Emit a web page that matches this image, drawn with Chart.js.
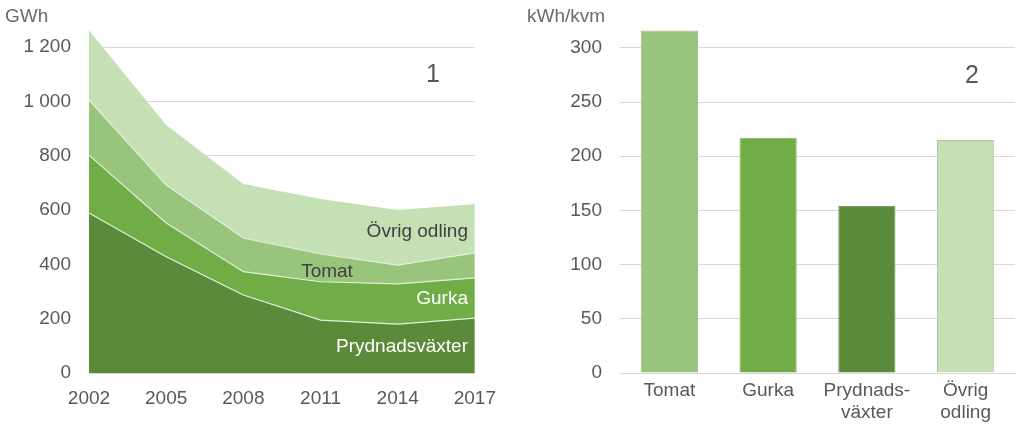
<!DOCTYPE html>
<html>
<head>
<meta charset="utf-8">
<script src="https://cdn.jsdelivr.net/npm/chart.js@4/dist/chart.umd.min.js"></script>
<style>
  html, body { margin: 0; padding: 0; background: #fff; }
  #wrap { position: relative; width: 1023px; height: 430px; overflow: hidden; }
  .box { position: absolute; top: 0; height: 430px; }
</style>
</head>
<body>
<div id="wrap">
  <div class="box" style="left:0;width:510px"><canvas id="c1" width="510" height="430"></canvas></div>
  <div class="box" style="left:505px;width:518px"><canvas id="c2" width="518" height="430"></canvas></div>
</div>
<script>
// ---- data (left chart: GWh per year, stacked) ----
const years = ['2002', '2005', '2008', '2011', '2014', '2017'];
const prydnadsvaxter = [589, 428, 287, 195, 180, 202];
const gurka = [213, 124, 86, 141, 148, 148];
const tomat = [203, 140, 124, 102, 69, 92];
const ovrigOdling = [257, 221, 199, 203, 203, 180];

// ---- data (right chart: kWh/kvm per crop) ----
const barCategories = [['Tomat'], ['Gurka'], ['Prydnads-', 'växter'], ['Övrig', 'odling']];
const barValues = [316, 217, 154, 215];

const FONT = '"Liberation Sans", Arial, sans-serif';
const TXT = '#595959';
const GRID = '#d9d9d9';
const C_PRYD = '#5b8a3a';
const C_GURKA = '#70ad47';
const C_TOMAT = '#99c47c';
const C_OVRIG = '#c5e0b4';
const SEP = '#e3efd9';

function fmt(v) { return String(v).replace(/\B(?=(\d{3})+(?!\d))/g, ' '); }

function textPlugin(items) {
  return {
    id: 'texts',
    afterDraw(chart) {
      const ctx = chart.ctx;
      ctx.save();
      items.forEach(t => {
        ctx.font = (t.size || 19) + 'px ' + FONT;
        ctx.fillStyle = t.color || TXT;
        ctx.textAlign = t.align || 'left';
        ctx.textBaseline = 'middle';
        ctx.fillText(t.text, t.x, t.y);
      });
      ctx.restore();
    }
  };
}

const mk = (label, data, color, fill, border) => ({
  label, data, backgroundColor: color, fill,
  borderColor: border ? SEP : 'rgba(0,0,0,0)', borderWidth: border ? 1.2 : 0,
  pointRadius: 0, tension: 0
});

new Chart(document.getElementById('c1'), {
  type: 'line',
  data: {
    labels: years,
    datasets: [
      mk('Prydnadsväxter', prydnadsvaxter, C_PRYD, 'origin', true),
      mk('Gurka', gurka, C_GURKA, '-1', true),
      mk('Tomat', tomat, C_TOMAT, '-1', true),
      mk('Övrig odling', ovrigOdling, C_OVRIG, '-1', false)
    ]
  },
  options: {
    responsive: false, animation: false,
    layout: { padding: { top: 0, right: 25, left: 0, bottom: 0 } },
    plugins: { legend: { display: false }, tooltip: { enabled: false } },
    scales: {
      x: {
        offset: false,
        grid: { display: false, drawTicks: false },
        border: { display: true, color: GRID },
        ticks: { color: TXT, font: { family: FONT, size: 19 }, padding: 14, maxRotation: 0, autoSkip: false },
        afterFit(s) { s.height = 57; }
      },
      y: {
        stacked: true, min: 0, max: 1265,
        grid: { color: GRID, drawTicks: false, lineWidth: 1 },
        border: { display: false },
        ticks: { stepSize: 200, includeBounds: false, color: TXT, font: { family: FONT, size: 19 }, padding: 18, callback: v => fmt(v) },
        afterFit(s) { s.width = 89; }
      }
    }
  },
  plugins: [textPlugin([
    { text: 'GWh', x: 5, y: 17, color: '#6b6b6b' },
    { text: '1', x: 433, y: 75, size: 25, align: 'center' },
    { text: 'Övrig odling', x: 468, y: 232, align: 'right', color: '#404040' },
    { text: 'Tomat', x: 327, y: 272, align: 'center', color: '#404040' },
    { text: 'Gurka', x: 468, y: 299, align: 'right', color: '#ffffff' },
    { text: 'Prydnadsväxter', x: 468, y: 347, align: 'right', color: '#ffffff' }
  ])]
});

new Chart(document.getElementById('c2'), {
  type: 'bar',
  data: {
    labels: barCategories,
    datasets: [{
      data: barValues,
      backgroundColor: [C_TOMAT, C_GURKA, C_PRYD, C_OVRIG],
      borderColor: ['#a3b898', '#8fae7c', '#7e9a6c', '#b0c4a5'],
      borderWidth: 1,
      categoryPercentage: 1.0,
      barPercentage: 0.58
    }]
  },
  options: {
    responsive: false, animation: false,
    layout: { padding: { top: 0, right: 8, left: 0, bottom: 0 } },
    plugins: { legend: { display: false }, tooltip: { enabled: false } },
    scales: {
      x: {
        grid: { display: false, drawTicks: false },
        border: { display: true, color: GRID },
        ticks: { color: TXT, font: { family: FONT, size: 19, lineHeight: 1.2 }, padding: 6, maxRotation: 0, autoSkip: false },
        afterFit(s) { s.height = 57; }
      },
      y: {
        min: 0, max: 317,
        grid: { color: GRID, drawTicks: false },
        border: { display: false },
        ticks: { stepSize: 50, includeBounds: false, color: TXT, font: { family: FONT, size: 19 }, padding: 18 },
        afterFit(s) { s.width = 115; }
      }
    }
  },
  plugins: [textPlugin([
    { text: 'kWh/kvm', x: 22, y: 17, color: '#6b6b6b' },
    { text: '2', x: 467, y: 76, size: 25, align: 'center' }
  ])]
});
</script>
</body>
</html>
